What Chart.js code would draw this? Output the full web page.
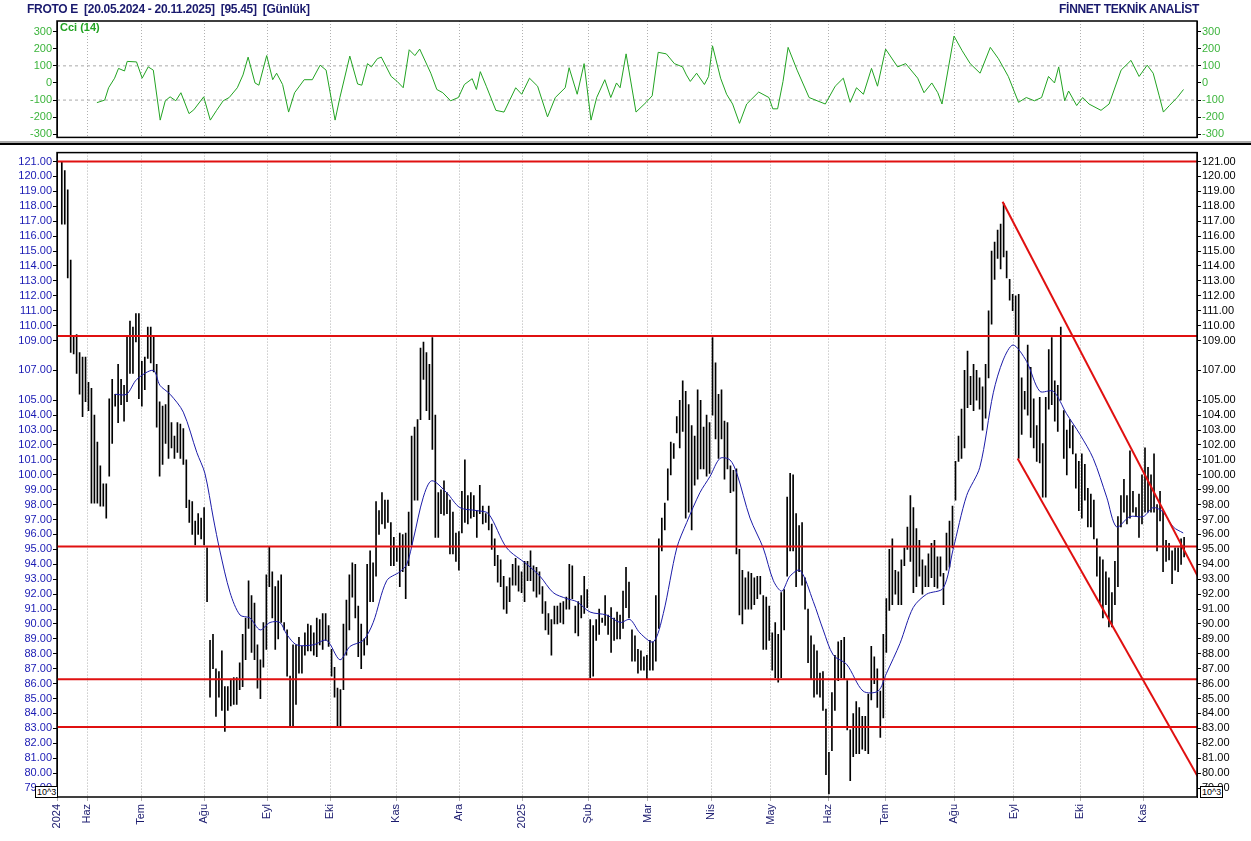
<!DOCTYPE html>
<html><head><meta charset="utf-8">
<script src="https://cdn.jsdelivr.net/npm/chart.js@4.4.1/dist/chart.umd.min.js"></script>
<style>
body{margin:0;background:#fff;width:1251px;height:841px;overflow:hidden;position:relative;font-family:"Liberation Sans",Arial,sans-serif}
#c1{position:absolute;left:0;top:0}
#c2{position:absolute;left:0;top:145px}
.t{position:absolute;font-weight:bold;font-size:12px;color:#1a1a6e;top:2px;letter-spacing:-0.3px}
.sep{position:absolute;left:0;width:1251px;background:#000}
.box{position:absolute;font-size:9px;border:1px solid #000;background:#fff;padding:0 1px;line-height:10px}
</style></head><body>
<canvas id="c1" width="1251" height="145"></canvas>
<canvas id="c2" width="1251" height="696"></canvas>
<div class="t" style="left:27px">FROTO E&nbsp; [20.05.2024 - 20.11.2025]&nbsp; [95.45]&nbsp; [Günlük]</div>
<div class="t" style="right:52px">FİNNET TEKNİK ANALİST</div>
<div class="sep" style="top:141px;height:2px;background:#aaa"></div>
<div class="sep" style="top:143px;height:2px"></div>
<div class="box" style="left:35px;top:786px">10^3</div>
<div class="box" style="left:1200px;top:786px">10^3</div>
<script>
// trading-day positions of month labels
const monthDays=[0,10,28,49,70,91,113,134,155,177,197,218,238,257,276,299,319,341,362];
const monthLabels=['2024','Haz','Tem','Ağu','Eyl','Eki','Kas','Ara','2025','Şub','Mar','Nis','May','Haz','Tem','Ağu','Eyl','Eki','Kas'];
// price bars, segment A (days 1.6 - 127.1)
const highA=[121,120.4,119.1,114.4,109.3,109.4,108.2,107.9,107.9,106.2,105.8,104,102.2,100.6,99.4,99.4,105.1,106.4,105.4,107.4,106.4,106,109.3,110.3,109.9,110.8,110.8,107.6,107.9,109.9,109.9,109.3,107.4,104.9,104.6,104.7,106,103.5,102.6,103.5,103.4,103.1,101,98.3,98.2,96.9,97.4,97.1,97.8,95.1,88.9,89.3,87,86.8,88.2,85.8,85.8,86.3,86.4,86.4,87.4,89.3,90.4,92.9,91.9,91.4,88.6,87.6,90.1,93.3,95.2,93.5,92.5,92.9,93.3,90.1,89.6,86.5,88.6,88.6,89.1,88.5,89.4,90,89.9,89.4,90.4,90.3,90.7,90.7,89.9,88.3,87.1,85.7,85.6,90,91.6,93.3,94.1,94,91.2,90,89,94,94.9,94.1,98.2,97.6,98.8,98.3,98.3,96.8,95.8,95.1,96.1,96,96.1,97.5,102.6,103.2,103.7,108.5,108.9,108.2,107.4,109.2,104,98.8];
const lowA=[116.8,116.8,113.2,108.2,108.1,106.8,105.4,103.9,104.9,104.3,98.1,98.1,98.1,97.9,97.9,97.1,99.9,102.1,104.6,103.5,104.7,103.6,104.9,106.8,106.8,108.9,105.1,104.6,105.7,107.8,107.5,106.9,103.2,99.9,100.7,102.1,101.1,101.8,101.1,101.5,101.1,100.7,97.8,96.8,96,95.3,96,95.7,95.3,91.5,85.1,87,83.8,85.1,84.2,82.8,84.2,84.5,84.6,84.6,85.6,85.8,87.6,89.7,88.1,87.6,85.7,85,87.1,88.3,92.5,90.4,88.3,89,90.1,89.6,86.5,83.1,83.1,84.6,86.7,86.7,87.9,88.2,88.2,87.9,87.8,88.6,88.3,88.9,88.5,86.5,85.1,83.1,83.1,85.6,87.9,89.6,91.8,90.4,87.8,87,87.9,88.6,91.5,91.5,93.2,96,96.7,96.4,96.8,93.9,93.9,94.2,92.5,93.5,91.7,93.9,95.3,98.3,98.3,103.7,106.4,104.3,103.7,101.7,95.8,95.8];
// segment B (days 128 - 259.3)
const highB=[99,99.6,98.8,98.3,97.5,96.1,96.2,98.9,101,98.6,98.8,98.6,97.6,99.3,97.9,97.4,97.9,96.7,95.7,94.6,94.3,93.2,92.5,93.1,94,94.4,93.9,93.5,94.2,94.2,94.9,93.9,93.8,93.5,92.5,91.5,90.7,90.3,91.2,91.2,91.4,91.5,91.8,94,93.9,91.2,91.5,91.9,93.2,92.3,90.3,89.9,90.3,91,90.4,91.9,90.6,91.1,90.4,90.8,90.6,92.2,93.8,92.8,89.6,89.2,88.3,88.2,87.8,87.9,88.9,88.8,91.9,95.7,97.1,98.1,100.4,102.2,102.1,103.9,105,106.3,105.6,104.7,103.3,102.6,105.7,105,103.2,104,103.5,109.2,107.5,105.4,105.7,103.6,103.5,100.6,100.3,100.4,95,93.6,93.1,93.5,93.4,93.1,93.2,93.2,91.9,91.8,91.2,89.4,90.1,89.3,92.1,92.3,98.5,100.1,100,97.4,96.6,96.8,93.1,91,89.2,88.6,88.2,86.7,86.8,84.3,81.4,85.4,87.9];
const lowB=[97.4,97.3,97.4,94.7,94.7,94.2,93.6,96.1,96.8,96.7,97.1,97.2,95.8,97.4,96.7,96.8,96.3,95,93.9,92.8,92.5,91,90.7,91.5,92.6,92.6,92.2,92.1,91.5,92.9,92.9,92.2,91.8,92,90.7,89.6,89.3,87.9,90,90,90.1,90,91,91,91.7,89.4,89.2,90.4,90.7,91.1,86.4,86.5,88.9,89.3,90.1,89.9,89.3,88.1,88.9,89,89,89.7,91.1,90.4,87.5,87.5,86.7,86.9,86.9,86.3,86.9,86.9,87.5,89.7,94.9,96.3,98.3,100,101.1,102.8,101.8,102.9,97.1,97.5,96.3,99.3,99.7,100.4,100.4,99.9,100.1,104,102.4,101.1,102.4,99.7,100.4,98.8,98.9,94.7,90.6,90,91,91,91,91.3,91.7,92,88.3,88.3,88.9,86.9,86.4,86.1,86.4,89.6,93.2,94.9,94.9,92.5,93.5,92.6,91,87.4,86.3,85.1,85.3,85.1,84.2,79.9,78.6,81.5,84.2];
// segment C (days 260.4 - 375.7)
const highC=[88.8,88.9,89.1,86.2,82.9,84,84.8,84.4,83.8,83.8,85.3,88.5,87.8,87,85.5,89.3,91.7,95,95.7,93.6,93.5,94.3,95.1,96.5,98.6,97.8,96.4,95.6,94.3,93.9,94.7,95.4,95.6,94.5,94.5,93.4,96.1,96.9,97.9,100.9,102.6,104.4,107,108.3,106.6,107.4,107,106.5,105.9,107.4,111,115,115.6,116.4,116.8,118.2,115,113.1,112.1,112,112.1,106.5,105.6,108.7,107.2,105.1,103.3,105.2,102.1,105.2,108.4,109.2,106.3,106,109.9,104.3,103,103.7,103.3,101.4,100.9,101.4,100.7,99.1,98.7,98.3,95.7,94.5,94.3,93.5,93.1,92.1,94.2,97.2,98.6,99.7,98.6,101.6,98.9,97.8,98.7,100,101.8,100.5,100,101.4,98,98.9,97.6,95.6,95.4,94.9,95.1,95.1,95.7,95.8];
const lowC=[86.2,86.4,86.3,82.9,79.5,81.1,81.3,81.3,81.6,81.5,81.3,84.9,86,84.4,82.4,83.7,88.1,90.9,91.3,92,91.3,91.3,93.9,95,94.2,92.1,92.5,93.2,92,92.5,92.5,93.1,92.5,92.4,93.2,91.3,93.6,93.8,95.1,98.3,100.9,101.1,101.8,104.5,104.7,104.3,105,104.4,103,103.8,106.5,110.1,113.1,114.5,113.8,114.6,113.2,111.7,111,109.4,101.1,102.7,104.4,104,102.5,101.8,100.9,100.8,98.5,98.5,104.4,104.7,103.6,102.9,105,101.1,100,101.8,101.4,99.1,97.6,97.1,98.3,96.5,96.5,95.7,93.2,91.4,90.4,91.3,89.8,89.8,91.3,92.5,96.5,97.5,96.7,97.1,97.5,97.2,95.8,96.7,97.5,97.5,97.5,97.5,94.9,96.9,93.5,94.2,94.3,92.7,93.6,93.5,94,94.5];
const segDays=[[1.6,127.1],[128,259.3],[260.4,375.7]];
// moving average (blue)
const maDays=[19.3,23.2,26.6,32.1,34.3,37.7,42.1,46.6,49.3,52.1,54.3,57.7,61,64.3,67.7,71,74.3,76.6,79.9,85.4,89.9,94.3,97.7,102.1,105.4,109.9,114.3,116.6,118.8,122.1,124.9,129.9,134.3,139.9,143.8,149.9,156.6,161,165.4,169.9,173.2,177.7,183.2,187.7,191,194.3,198.8,202.1,206.6,209.9,214.3,217.7,221,224.3,226.6,231,235.4,238.8,241.6,244.3,247.7,252.1,255.4,258.8,263.2,268.7,273.7,276.5,281,285.4,289.9,295.4,298.7,303.2,307.6,312.1,315.4,318.7,323.2,327.6,332.1,336.5,341,345.4,349.9,353.2,357.6,362.1,365.4,368.7,372.1,375.4];
const maVals=[105.4,105.4,106.4,107,106,105.4,104.2,101.5,100.1,97.1,94.9,92.1,90.6,90.4,89.6,90.1,90.1,89.3,88.6,88.6,88.9,87.6,88.5,88.9,90.1,92.9,93.5,94,95.7,98.5,99.6,98.8,97.8,97.6,97.4,95.1,94,93.2,92.1,91.7,91.5,90.8,90.6,90.1,90.3,89.4,88.8,90.7,95.1,96.8,98.8,99.9,101.1,101,100.1,97.1,95.1,92.9,92.2,93.2,93.6,91.5,89.6,87.9,87.3,85.5,85.5,86.7,88.7,91.1,92,92.4,95,98.6,100.5,105.5,107.7,108.7,107.6,105.6,105.6,104.1,102.7,101.1,98.5,96.5,97.2,97.2,97.8,97.5,96.5,96.1];
// support / resistance levels and channel
const levels=[121,109.3,95.2,86.3,83.1];
const chanUpper=[[315.2,118.3],[381,92.9]];
const chanLower=[[320.2,101.1],[381,79.5]];
// CCI(14)
const cciDays=[13.3,15.9,17.2,19.2,20.5,22.5,23.4,26.5,28.4,30.4,32.1,34.4,36.1,37.7,39.6,41.3,44,45.6,48.9,51.1,53.2,55.4,57.4,60.1,62,63.7,66,67.3,69.9,71.9,73.2,75.2,77.2,79.2,82.4,85.1,87.7,89.7,92.7,94.3,97.6,100.2,101.6,103.5,104.8,106.8,108.1,111.4,113.4,115.4,117.4,119.3,120.9,124.6,126.6,128.6,131.2,133.8,135.8,138.4,139.8,141.1,143.1,146.3,149,152.9,154.9,157.5,160.2,163.5,166.1,169.4,170.7,173.4,175.7,178,179.9,182.6,184.6,186.5,187.7,189.7,193,196.4,198.4,200.4,203.1,205.8,208.5,209.8,211.1,213.2,215.8,217.2,218.5,221.2,223.2,225.2,227.5,229.9,233.9,237.3,238.6,240.2,242,243.7,246.7,250.7,256.1,259.4,262.1,264.4,266.5,268.8,271.5,273.5,276.2,280.2,282.9,286.9,289,291.6,293.6,295,299,301.7,304.4,307.7,311.1,313.8,317.1,320.5,323.1,325.8,328.2,330.5,332.5,333.9,335.9,337.2,339.9,341.9,344,348,350.7,354.7,358,360.7,363.4,365.4,367.4,368.8,370.8,373.4,375.5];
const cciVals=[-115,-100,-28,28,85,70,126,123,28,94,75,-217,-104,-81,-104,-57,-179,-157,-81,-217,-160,-104,-85,-28,47,151,0,-13,160,19,57,-9,-170,-57,19,19,104,75,-217,-85,157,-6,-13,113,94,142,151,38,9,-28,194,160,198,57,-38,-57,-104,-85,-9,25,-38,66,-19,-160,-170,-28,-66,28,-19,-198,-85,-28,89,-66,113,-217,-85,19,-85,0,-28,170,-170,-113,-75,179,170,113,94,47,9,57,-9,38,217,28,-66,-123,-236,-123,-53,-85,-151,-151,9,208,75,-85,-123,-19,28,-113,-28,-66,85,-19,198,94,113,28,-57,0,-57,-123,274,189,113,57,208,142,38,-113,-85,-104,-85,38,0,94,-104,-47,-132,-85,-123,-160,-123,75,132,38,104,57,-75,-170,-132,-85,-38];

const FONT={family:'"Liberation Sans", Arial, sans-serif',size:11};
function seg(highs,lows,d){const n=highs.length,st=(d[1]-d[0])/(n-1);return highs.map((h,i)=>({x:d[0]+i*st,y:[lows[i],h]}));}
const bars=[...seg(highA,lowA,segDays[0]),...seg(highB,lowB,segDays[1]),...seg(highC,lowC,segDays[2])];
const frame={id:'frame',afterDraw(c){const a=c.chartArea,x=c.ctx;x.save();x.strokeStyle='#000';x.lineWidth=1.5;x.strokeRect(a.left,a.top,a.right-a.left,a.bottom-a.top);x.restore();}};
const xScale=(show)=>({type:'linear',min:0,max:380,offset:false,display:true,
  afterBuildTicks:s=>{s.ticks=monthDays.map(v=>({value:v}));},
  afterFit:s=>{s.height=show?44:0;},
  grid:{color:'#b0b0b0',drawTicks:show,tickLength:4,offset:false},border:{display:false,dash:[1,2]},
  ticks:{display:show,autoSkip:false,maxRotation:90,minRotation:90,color:'#1a1a6e',font:FONT,
    callback:(v,i)=>monthLabels[i]}});
function yAx(pos,min,max,step,fmt,color,w,skip){return {position:pos,min,max,
  afterFit:s=>{s.width=w;},
  afterBuildTicks:s=>{const t=[];for(let v=Math.ceil(min/step)*step;v<=max+1e-9;v+=step){if(!skip(v))t.push({value:Math.round(v*100)/100});}s.ticks=t;},
  grid:{drawOnChartArea:false,tickLength:4,color:'#000'},border:{color:'#000'},
  ticks:{color,font:FONT,padding:1,callback:fmt,autoSkip:false}};}

new Chart(document.getElementById('c1'),{type:'line',
  data:{datasets:[
    {data:cciDays.map((d,i)=>({x:d,y:cciVals[i]})),borderColor:'#22a322',borderWidth:1,pointRadius:0,tension:0},
    {data:[{x:0,y:100},{x:380,y:100}],borderColor:'#aaa',borderDash:[3,3],borderWidth:1,pointRadius:0},
    {data:[{x:0,y:-100},{x:380,y:-100}],borderColor:'#aaa',borderDash:[3,3],borderWidth:1,pointRadius:0}]},
  options:{responsive:false,animation:false,layout:{padding:{top:21,bottom:4,left:0,right:0}},
    plugins:{legend:{display:false},tooltip:{enabled:false},title:{display:false}},
    scales:{x:xScale(false),
      y:yAx('left',-318,362,100,v=>v,'#3cb43c',57,v=>false),
      y2:yAx('right',-318,362,100,v=>v,'#3cb43c',54,v=>false)}},
  plugins:[frame,{id:'lbl',afterDraw(c){const x=c.ctx;x.save();x.font='bold 11px "Liberation Sans", Arial';x.fillStyle='#22a322';x.fillText('Cci (14)',c.chartArea.left+3,c.chartArea.top+10);x.restore();}}]});

const lineDs=(pts,color,w)=>({type:'line',data:pts.map(p=>({x:p[0],y:p[1]})),borderColor:color,borderWidth:w,pointRadius:0,tension:0,order:0});
new Chart(document.getElementById('c2'),{type:'bar',
  data:{datasets:[
    {type:'bar',data:bars,backgroundColor:'#000',borderWidth:0,barThickness:1,order:2},
    {type:'line',data:maDays.map((d,i)=>({x:d,y:maVals[i]})),borderColor:'#1c1ca8',borderWidth:1,pointRadius:0,tension:0.3,order:1},
    ...levels.map(v=>lineDs([[0,v],[380,v]],'#e01010',2)),
    lineDs(chanUpper,'#e01010',2),lineDs(chanLower,'#e01010',2)]},
  options:{responsive:false,animation:false,layout:{padding:{top:5,bottom:0,left:0,right:0}},
    plugins:{legend:{display:false},tooltip:{enabled:false}},
    scales:{x:xScale(true),
      y:yAx('left',78.4,121.6,1,v=>v.toFixed(2),'#1a1ab4',57,v=>v===106||v===108),
      y2:yAx('right',78.4,121.6,1,v=>v.toFixed(2),'#000',54,v=>v===106||v===108)}},
  plugins:[frame]});
</script></body></html>
